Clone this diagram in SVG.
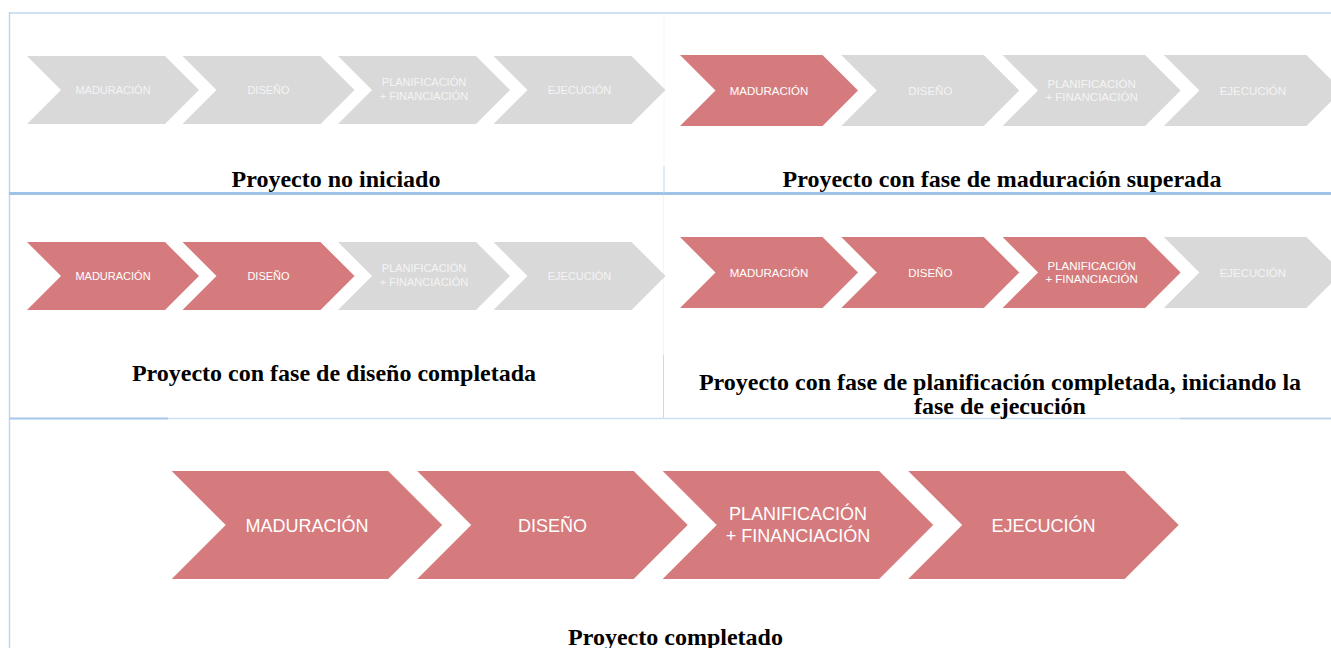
<svg xmlns="http://www.w3.org/2000/svg" width="1331" height="648" viewBox="0 0 1331 648">
<style>
.on{fill:#d67b7d}
.off{fill:#d9d9d9}
.lbl{font-family:"Liberation Sans",Arial,sans-serif;text-anchor:middle}
.lon{fill:#ffffff}
.loff{fill:#f4f4f4}
.s{font-size:11px}
.m{font-size:11.5px}
.b{font-size:18px}
.title{font-family:"Liberation Serif","Times New Roman",serif;font-weight:bold;font-size:24px;text-anchor:middle;fill:#000}
.grid{stroke:#bdd7ee;fill:none}
</style>
<rect width="1331" height="648" fill="#ffffff"/>
<g id="table-grid">
  <line class="grid" x1="9" y1="13" x2="1331" y2="13" stroke-width="1.5"/>
  <line class="grid" x1="9.5" y1="12" x2="9.5" y2="648" stroke-width="1.5"/>
  <line x1="9" y1="193.5" x2="1331" y2="193.5" stroke="#9dc3e6" stroke-width="3"/>
  <line x1="9" y1="418.5" x2="1331" y2="418.5" stroke="#cfe0f2" stroke-width="1.5"/>
  <line x1="9" y1="418.5" x2="168" y2="418.5" stroke="#a9c9ea" stroke-width="2"/>
  <line x1="1180" y1="418.5" x2="1331" y2="418.5" stroke="#b9d2ec" stroke-width="1.5"/>
  <line x1="664" y1="13" x2="664" y2="166" stroke="#f1f5fa" stroke-width="1"/>
  <line x1="664" y1="166" x2="664" y2="193" stroke="#c5d9ef" stroke-width="1"/>
  <line x1="663.5" y1="195" x2="663.5" y2="355" stroke="#f1f5fa" stroke-width="1"/>
  <line x1="663.5" y1="355" x2="663.5" y2="418" stroke="#c5d9ef" stroke-width="1"/>
</g>
<g id="connectors"></g>

<!-- Panel 1: Proyecto no iniciado -->
<g id="panel1">
  <g id="p1-maduracion"><polygon class="off" points="27,56 165,56 199,90 165,124 27,124 61,90"/><text class="lbl loff s" x="113" y="94">MADURACIÓN</text></g>
  <g id="p1-diseno"><polygon class="off" points="182.5,56 320.5,56 354.5,90 320.5,124 182.5,124 216.5,90"/><text class="lbl loff s" x="268.5" y="94">DISEÑO</text></g>
  <g id="p1-planificacion"><polygon class="off" points="338,56 476,56 510,90 476,124 338,124 372,90"/><text class="lbl loff s" x="424" y="86">PLANIFICACIÓN</text><text class="lbl loff s" x="424" y="100">+ FINANCIACIÓN</text></g>
  <g id="p1-ejecucion"><polygon class="off" points="493.5,56 631.5,56 665.5,90 631.5,124 493.5,124 527.5,90"/><text class="lbl loff s" x="579.5" y="94">EJECUCIÓN</text></g>
  <text id="t1" class="title" x="336" y="187">Proyecto no iniciado</text>
</g>

<!-- Panel 2 -->
<g id="panel2">
  <g id="p2-maduracion"><polygon class="on" points="680,55 822.5,55 858,90.5 822.5,126 680,126 715.5,90.5"/><text class="lbl lon m" x="769" y="94.5">MADURACIÓN</text></g>
  <g id="p2-diseno"><polygon class="off" points="841.3,55 983.8,55 1019.3,90.5 983.8,126 841.3,126 876.8,90.5"/><text class="lbl loff m" x="930.3" y="94.5">DISEÑO</text></g>
  <g id="p2-planificacion"><polygon class="off" points="1002.6,55 1145.1,55 1180.6,90.5 1145.1,126 1002.6,126 1038.1,90.5"/><text class="lbl loff m" x="1091.6" y="87.5">PLANIFICACIÓN</text><text class="lbl loff m" x="1091.6" y="101">+ FINANCIACIÓN</text></g>
  <g id="p2-ejecucion"><polygon class="off" points="1163.9,55 1306.4,55 1341.9,90.5 1306.4,126 1163.9,126 1199.4,90.5"/><text class="lbl loff m" x="1252.9" y="94.5">EJECUCIÓN</text></g>
  <text id="t2" class="title" x="1002" y="187">Proyecto con fase de maduración superada</text>
</g>

<!-- Panel 3 -->
<g id="panel3">
  <g id="p3-maduracion"><polygon class="on" points="27,242 165,242 199,276 165,310 27,310 61,276"/><text class="lbl lon s" x="113" y="280">MADURACIÓN</text></g>
  <g id="p3-diseno"><polygon class="on" points="182.5,242 320.5,242 354.5,276 320.5,310 182.5,310 216.5,276"/><text class="lbl lon s" x="268.5" y="280">DISEÑO</text></g>
  <g id="p3-planificacion"><polygon class="off" points="338,242 476,242 510,276 476,310 338,310 372,276"/><text class="lbl loff s" x="424" y="272">PLANIFICACIÓN</text><text class="lbl loff s" x="424" y="286">+ FINANCIACIÓN</text></g>
  <g id="p3-ejecucion"><polygon class="off" points="493.5,242 631.5,242 665.5,276 631.5,310 493.5,310 527.5,276"/><text class="lbl loff s" x="579.5" y="280">EJECUCIÓN</text></g>
  <text id="t3" class="title" x="334" y="381">Proyecto con fase de diseño completada</text>
</g>

<!-- Panel 4 -->
<g id="panel4">
  <g id="p4-maduracion"><polygon class="on" points="680,237 822.5,237 858,272.5 822.5,308 680,308 715.5,272.5"/><text class="lbl lon m" x="769" y="276.5">MADURACIÓN</text></g>
  <g id="p4-diseno"><polygon class="on" points="841.3,237 983.8,237 1019.3,272.5 983.8,308 841.3,308 876.8,272.5"/><text class="lbl lon m" x="930.3" y="276.5">DISEÑO</text></g>
  <g id="p4-planificacion"><polygon class="on" points="1002.6,237 1145.1,237 1180.6,272.5 1145.1,308 1002.6,308 1038.1,272.5"/><text class="lbl lon m" x="1091.6" y="269.5">PLANIFICACIÓN</text><text class="lbl lon m" x="1091.6" y="283">+ FINANCIACIÓN</text></g>
  <g id="p4-ejecucion"><polygon class="off" points="1163.9,237 1306.4,237 1341.9,272.5 1306.4,308 1163.9,308 1199.4,272.5"/><text class="lbl loff m" x="1252.9" y="276.5">EJECUCIÓN</text></g>
  <text id="t4" class="title" x="1000" y="390"><tspan x="1000" y="390">Proyecto con fase de planificación completada, iniciando la</tspan><tspan x="1000" y="414">fase de ejecución</tspan></text>
</g>

<!-- Panel 5 -->
<g id="panel5">
  <g id="p5-maduracion"><polygon class="on" points="171.7,471 388.2,471 442.2,525 388.2,579 171.7,579 225.7,525"/><text class="lbl lon b" x="307" y="531.5">MADURACIÓN</text></g>
  <g id="p5-diseno"><polygon class="on" points="417.2,471 633.7,471 687.7,525 633.7,579 417.2,579 471.2,525"/><text class="lbl lon b" x="552.5" y="531.5">DISEÑO</text></g>
  <g id="p5-planificacion"><polygon class="on" points="662.7,471 879.2,471 933.2,525 879.2,579 662.7,579 716.7,525"/><text class="lbl lon b" x="798" y="520">PLANIFICACIÓN</text><text class="lbl lon b" x="798" y="541.5">+ FINANCIACIÓN</text></g>
  <g id="p5-ejecucion"><polygon class="on" points="908.2,471 1124.7,471 1178.7,525 1124.7,579 908.2,579 962.2,525"/><text class="lbl lon b" x="1043.5" y="531.5">EJECUCIÓN</text></g>
  <text id="t5" class="title" x="675.5" y="645">Proyecto completado</text>
</g>
</svg>
